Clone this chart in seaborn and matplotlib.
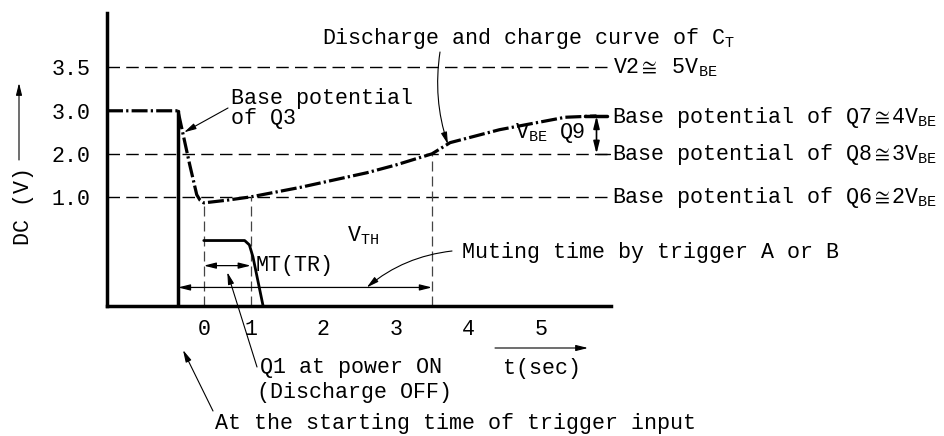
import numpy as np
import seaborn as sns
import matplotlib.pyplot as plt

curve_t = [-2.06, -0.55, -0.52, -0.45, -0.30, -0.15, -0.08, 0.0, 0.5, 1.0,
           1.68, 2.6, 3.0, 3.5, 3.75, 4.43, 5.34, 5.77]
curve_v = [3.0, 3.0, 2.85, 2.5, 1.75, 1.05, 0.97, 0.945, 0.97, 1.0,
           1.22, 1.56, 1.74, 2.0, 2.26, 2.56, 2.85, 2.88]
q1_t = [0.0, 0.87, 0.97, 1.03, 1.17]
q1_v = [0.6, 0.6, 0.56, 0.45, 0.0]
trigger_t = -0.55
trigger_v = 3.0
ref_levels = [1.0, 2.0, 3.5]
y_ticks = [1.0, 2.0, 3.0, 3.5]
x_ticks = [0, 1, 2, 3, 4, 5]
x_tick_labels = ["0", "1", "2", "3", "4", "5"]
t_start, t_mt, t_mute = 0.0, 1.0, 3.5
v_start, v_mt, v_mute = 0.945, 1.0, 2.0
mt_arrow_v = 0.37
mute_arrow_v = 0.17
q9_t = 5.77
q9_top, q9_bot = 2.88, 2.0

# Échelle du schéma (pas à l'échelle : pixels par unité)
T_KNOTS = [-100, 0, 1, 100]
T_POS = [-4700, 0, 47, 47 + 99 * 72.5]
V_KNOTS = [-100, 0, 1, 2, 3, 3.5, 100]
V_POS = [-10900, 0, 109, 152, 195, 239, 239 + 96.5 * 88]

W, H = 945, 436
T_LEFT, T_RIGHT, V_TOP = -2.06, 5.97, 4.11
T_LINE_END = 5.95


def fwd_t(t):
    return np.interp(t, T_KNOTS, T_POS)


def inv_t(p):
    return np.interp(p, T_POS, T_KNOTS)


def fwd_v(v):
    return np.interp(v, V_KNOTS, V_POS)


def inv_v(p):
    return np.interp(p, V_POS, V_KNOTS)


def px(x, y):
    """Coordonnées pixel (origine en haut à gauche) -> fraction de figure."""
    return x / W, 1 - y / H


sns.set_theme(style="white")
plt.rcParams['font.family'] = ['Liberation Mono', 'DejaVu Sans Mono']
plt.rcParams['mathtext.fontset'] = 'custom'
plt.rcParams['mathtext.rm'] = 'Liberation Mono'
plt.rcParams['mathtext.it'] = 'Liberation Mono'
plt.rcParams['mathtext.bf'] = 'Liberation Mono'
plt.rcParams['text.color'] = 'black'

FS = 15.6
fig = plt.figure(figsize=(W / 100, H / 100), dpi=100)
ax = fig.add_axes([107 / W, 130 / H, 504 / W, 293 / H])
ax.set_xscale('function', functions=(fwd_t, inv_t))
ax.set_yscale('function', functions=(fwd_v, inv_v))
ax.set_xlim(T_LEFT, T_RIGHT)
ax.set_ylim(0, V_TOP)

sns.despine(ax=ax)
for side in ["left", "bottom"]:
    ax.spines[side].set_linewidth(2.5)
    ax.spines[side].set_color("black")

# Niveaux de référence en pointillés
for v in ref_levels:
    ax.plot([T_LEFT, T_LINE_END], [v, v], color="black", lw=1.0,
            ls=(0, (9, 4.5)))
for t, v in [(t_start, v_start), (t_mt, v_mt), (t_mute, v_mute)]:
    ax.plot([t, t], [0, v], color="#444444", lw=0.9, ls=(0, (8, 4)))

# Courbe de décharge / charge
sns.lineplot(x=curve_t, y=curve_v, ax=ax, sort=False, estimator=None,
             color="black", lw=2.3, linestyle=(0, (5, 1, 0.7, 1)))
# Impulsion Q1 et front du déclenchement
sns.lineplot(x=q1_t, y=q1_v, ax=ax, sort=False, estimator=None,
             color="black", lw=2.0)
ax.plot([trigger_t, trigger_t], [trigger_v, 0], color="black", lw=2.5)

# Q9 : barre et double flèche
ax.plot([q9_t - 0.16, q9_t + 0.14], [q9_top, q9_top], color="black", lw=2.5)
ax.plot([q9_t, T_LINE_END], [q9_bot, q9_bot], color="black", lw=1.0)
head = '<|-|>,head_length=0.6,head_width=0.15'
one = '-|>,head_length=0.6,head_width=0.15'
ax.annotate('', xy=(q9_t, q9_bot), xytext=(q9_t, q9_top),
            arrowprops=dict(arrowstyle=head, color="black", lw=1.2,
                            shrinkA=0, shrinkB=0))
ax.annotate('', xy=(t_mt, mt_arrow_v), xytext=(t_start, mt_arrow_v),
            arrowprops=dict(arrowstyle=head, color="black", lw=0.9,
                            shrinkA=0, shrinkB=0))
ax.annotate('', xy=(t_mute, mute_arrow_v), xytext=(trigger_t, mute_arrow_v),
            arrowprops=dict(arrowstyle=head, color="black", lw=0.9,
                            shrinkA=0, shrinkB=0))


# Flèches de renvoi
def pointer(xy, start, rad=0.0, coords='data'):
    ax.annotate('', xy=xy, xycoords=coords,
                xytext=(start[0], H - start[1]), textcoords='figure pixels',
                arrowprops=dict(arrowstyle=one, color="black", lw=0.8,
                                shrinkA=0, shrinkB=0,
                                connectionstyle=f"arc3,rad={rad}"),
                annotation_clip=False)


pointer((-0.42, 2.5), (228, 108))
pointer((3.72, 2.22), (440, 52), rad=0.12)
pointer((2.6, mute_arrow_v), (452, 251), rad=0.15)
pointer((0.5, 0.31), (257, 367))
pointer((183, H - 350), (213, 411), coords='figure pixels')
pointer((588, H - 348), (495, 348), coords='figure pixels')
pointer((19, H - 83), (19, 160), coords='figure pixels')

# Graduations
ax.set_xticks(x_ticks)
ax.set_xticklabels(x_tick_labels)
ax.set_yticks(y_ticks)
ax.set_yticklabels([f"{v:.1f}" for v in y_ticks])
ax.tick_params(axis='x', direction='in', length=7, width=1.2, pad=9,
               labelsize=FS, colors='black')
ax.tick_params(axis='y', length=0, pad=12, labelsize=FS, colors='black')
for tick in ax.xaxis.get_major_ticks()[:2]:
    tick.tick1line.set_visible(False)


# Textes
def label(x, y, s, **kw):
    fig.text(*px(x, y + 6), s, fontsize=FS, va='baseline', ha='left', **kw)


label(322, 38, r"Discharge and charge curve of $\mathrm{C_T}$")
label(613, 67, r"V2$\cong$ 5$\mathrm{V_{BE}}$")
label(612, 117, r"Base potential of Q7$\cong$4$\mathrm{V_{BE}}$")
label(612, 154, r"Base potential of Q8$\cong$3$\mathrm{V_{BE}}$")
label(612, 197, r"Base potential of Q6$\cong$2$\mathrm{V_{BE}}$")
label(231, 98, "Base potential")
label(231, 118, "of Q3")
label(256, 265, "MT(TR)")
label(347, 235, r"$\mathrm{V_{TH}}$")
label(462, 252, "Muting time by trigger A or B")
label(515, 132, r"$\mathrm{V_{BE}}$")
label(560, 132, "Q9")
label(260, 367, "Q1 at power ON")
label(257, 392, "(Discharge OFF)")
label(503, 368, "t(sec)")
label(215, 423, "At the starting time of trigger input")
fig.text(*px(23, 206), "DC (V)", fontsize=FS, rotation=90,
         ha='center', va='center')

fig.savefig("out.png", dpi=100)
